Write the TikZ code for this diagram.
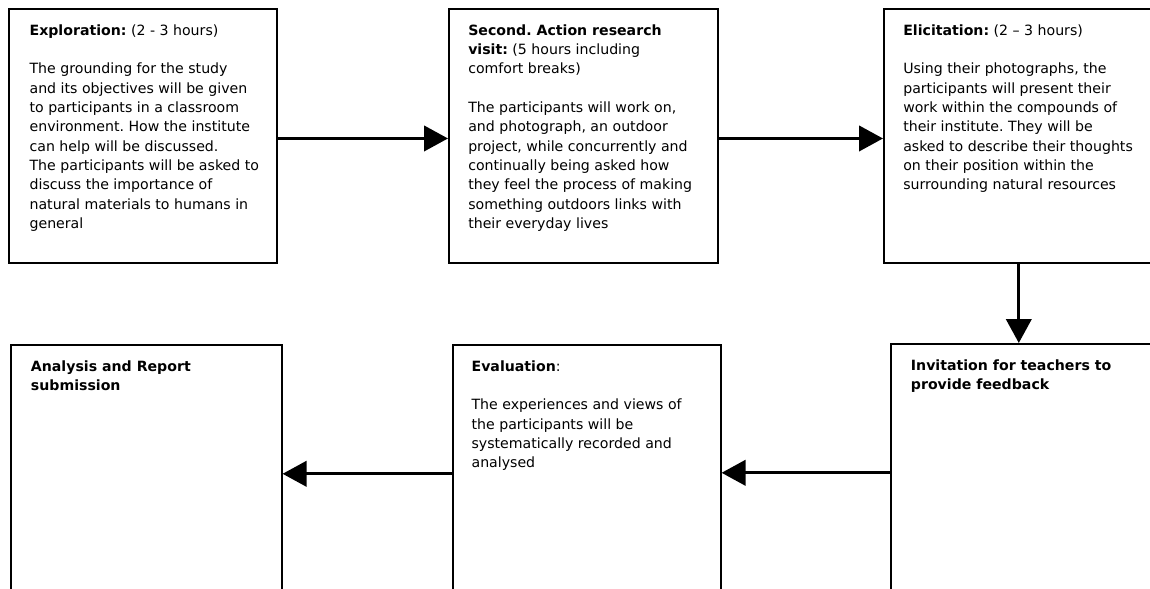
\documentclass[tikz,border=0pt]{standalone}
\usepackage{fontspec}
\setmainfont{DejaVu Sans}
\usetikzlibrary{arrows.meta, positioning}

\begin{document}
\frenchspacing
\begin{tikzpicture}[x=0.75pt, y=-0.75pt,
    stagebox/.style={rectangle, draw=black, line width=1.2pt, anchor=north west, minimum width=#1, minimum height=190.5pt, inner sep=0pt},
    stagebox/.default=201pt,
    stagetext/.style={anchor=north west, align=left, inner sep=0pt, font=\fontsize{10.6}{14.5}\selectfont},
    flow/.style={line width=2.3pt, -{Triangle[length=18pt, width=19pt]}}]
    \useasboundingbox (0,0) rectangle (1150,589);
    \clip (0,0) rectangle (1150,589);

    % Top row
    \node[stagebox=201pt] (explore) at (8,8) {};
    \node[stagetext, below right=12pt and 16pt of explore.north west] (exploretxt) {\textbf{Exploration:} (2 - 3 hours)\\[14.5pt]
        The grounding for the study\\
        and its objectives will be given\\
        to participants in a classroom\\
        environment. How the institute\\
        can help will be discussed.\\
        The participants will be asked to\\
        discuss the importance of\\
        natural materials to humans in\\
        general};

    \node[stagebox=201.75pt] (visit) at (448,8) {};
    \node[stagetext, below right=12pt and 15pt of visit.north west] (visittxt) {\textbf{Second. Action research}\\
        \textbf{visit:} (5 hours including\\
        comfort breaks)\\[14.5pt]
        The participants will work on,\\
        and photograph, an outdoor\\
        project, while concurrently and\\
        continually being asked how\\
        they feel the process of making\\
        something outdoors links with\\
        their everyday lives};

    \node[stagebox=202.5pt] (elicit) at (883,8) {};
    \node[stagetext, below right=12pt and 15pt of elicit.north west] (elicittxt) {\textbf{Elicitation:} (2 -- 3 hours)\\[14.5pt]
        Using their photographs, the\\
        participants will present their\\
        work within the compounds of\\
        their institute. They will be\\
        asked to describe their thoughts\\
        on their position within the\\
        surrounding natural resources};

    % Bottom row
    \node[stagebox=202.5pt] (invite) at (890,343) {};
    \node[stagetext, below right=12pt and 15.5pt of invite.north west] (invitetxt) {\textbf{Invitation for teachers to}\\
        \textbf{provide feedback}};

    \node[stagebox=201pt] (evaluate) at (452,344) {};
    \node[stagetext, below right=12pt and 14.5pt of evaluate.north west] (evaluatetxt) {\textbf{Evaluation}:\\[14.5pt]
        The experiences and views of\\
        the participants will be\\
        systematically recorded and\\
        analysed};

    \node[stagebox=203.25pt] (report) at (10,344) {};
    \node[stagetext, below right=12pt and 15.5pt of report.north west] (reporttxt) {\textbf{Analysis and Report}\\
        \textbf{submission}};

    % Connectors
    \draw[flow] ([yshift=-2pt]explore.east) -- ([yshift=-2pt]visit.west);
    \draw[flow] ([yshift=-2pt]visit.east) -- ([yshift=-2pt]elicit.west);
    \draw[flow] (elicit.south) -- (elicit.south |- invite.north);
    \draw[flow] ([yshift=-1.5pt]invite.west) -- ([yshift=-1.5pt]invite.west -| evaluate.east);
    \draw[flow] ([yshift=-1.5pt]evaluate.west) -- ([yshift=-1.5pt]evaluate.west -| report.east);
\end{tikzpicture}
\end{document}
